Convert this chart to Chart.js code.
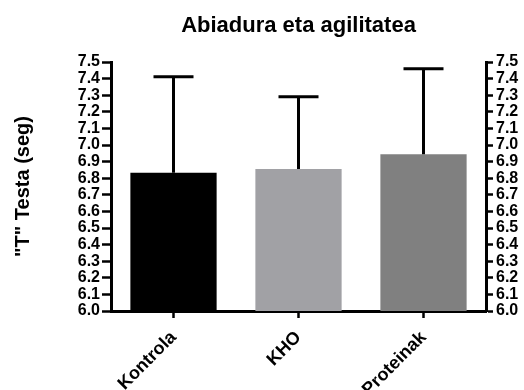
<!DOCTYPE html>
<html>
<head>
<meta charset="utf-8">
<script src="https://cdn.jsdelivr.net/npm/chart.js@4"></script>
<style>
  html, body { margin: 0; padding: 0; background: #fff; }
  #wrap { width: 524px; height: 390px; }
</style>
</head>
<body>
<div id="wrap"><canvas id="bar-t"></canvas></div>
<script>
const categories = ['Kontrola', 'KHO', 'Proteinak'];
const means = [6.833, 6.855, 6.945];
const sds = [0.578, 0.435, 0.515];
const barColors = ['#000000', '#a1a1a5', '#808080'];
const yMin = 6.0;
const yMax = 7.5;

const FONT = '"Liberation Sans", Arial, sans-serif';

// draws the upper SD whisker on each bar
const errorBars = {
  id: 'errorBars',
  afterDatasetsDraw(chart) {
    const ctx = chart.ctx;
    const y = chart.scales.y;
    const meta = chart.getDatasetMeta(0);
    ctx.save();
    ctx.strokeStyle = '#000';
    ctx.lineWidth = 3;
    meta.data.forEach((bar, i) => {
      const top = y.getPixelForValue(means[i] + sds[i]);
      const base = y.getPixelForValue(means[i]);
      ctx.beginPath();
      ctx.moveTo(bar.x, base);
      ctx.lineTo(bar.x, top);
      ctx.moveTo(bar.x - 20, top);
      ctx.lineTo(bar.x + 20, top);
      ctx.stroke();
    });
    ctx.restore();
  }
};

const tickLabel = (v) => Number(v).toFixed(1);

const ctx = document.getElementById('bar-t');

new Chart(ctx, {
  type: 'bar',
  data: {
    labels: categories,
    datasets: [{
      data: means,
      backgroundColor: barColors,
      borderWidth: 0,
      barPercentage: 0.69,
      categoryPercentage: 1.0,
      yAxisID: 'y'
    }]
  },
  options: {
    responsive: true,
    maintainAspectRatio: false,
    animation: false,
    layout: { padding: 0 },
    plugins: {
      legend: { display: false },
      tooltip: { enabled: false },
      title: {
        display: true,
        text: 'Abiadura eta agilitatea',
        color: '#000',
        fullSize: false,
        font: { family: FONT, size: 22, weight: 'bold' },
        padding: { top: 13, bottom: 22.6 }
      }
    },
    scales: {
      x: {
        grid: {
          display: true,
          drawOnChartArea: false,
          offset: false,
          tickLength: 7,
          tickWidth: 2.5,
          tickColor: '#000'
        },
        border: { display: true, color: '#000', width: 3 },
        ticks: {
          color: '#000',
          maxRotation: 45,
          minRotation: 45,
          padding: 9,
          font: { family: FONT, size: 18, weight: 'bold' }
        },
        afterFit(scale) { scale.height = 79; }
      },
      y: {
        position: 'left',
        min: yMin,
        max: yMax,
        grid: {
          display: true,
          drawOnChartArea: false,
          tickLength: 9,
          tickWidth: 2.5,
          tickColor: '#000'
        },
        border: { display: true, color: '#000', width: 3 },
        ticks: {
          stepSize: 0.1,
          autoSkip: false,
          color: '#000',
          padding: 2,
          callback: tickLabel,
          font: { family: FONT, size: 16, weight: 'bold' }
        },
        title: {
          display: true,
          text: '"T" Testa (seg)',
          color: '#000',
          padding: { top: 11, bottom: 0 },
          font: { family: FONT, size: 20, weight: 'bold' }
        },
        afterFit(scale) { scale.width = 111; }
      },
      y2: {
        position: 'right',
        min: yMin,
        max: yMax,
        grid: {
          display: true,
          drawOnChartArea: false,
          tickLength: 7,
          tickWidth: 2.5,
          tickColor: '#000'
        },
        border: { display: true, color: '#000', width: 3 },
        ticks: {
          stepSize: 0.1,
          autoSkip: false,
          color: '#000',
          padding: 3,
          callback: tickLabel,
          font: { family: FONT, size: 16, weight: 'bold' }
        },
        afterFit(scale) { scale.width = 38; }
      }
    }
  },
  plugins: [errorBars]
});
</script>
</body>
</html>
